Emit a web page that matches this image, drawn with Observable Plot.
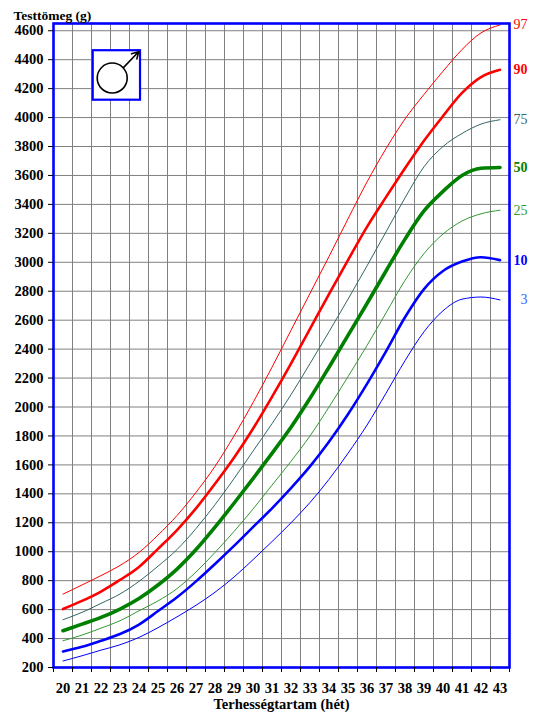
<!DOCTYPE html>
<html>
<head>
<meta charset="utf-8">
<script src="https://cdn.jsdelivr.net/npm/d3@7"></script>
<script src="https://cdn.jsdelivr.net/npm/@observablehq/plot@0.6"></script>
<style>
  html, body { margin: 0; padding: 0; background: #fff; }
  #chart { width: 540px; height: 720px; }
  #chart svg, #chart svg text { font-family: "Liberation Serif", "Times New Roman", serif !important; }
</style>
</head>
<body>
<div id="chart"></div>
<script>
// ---- data ----
const weeks = [20,21,22,23,24,25,26,27,28,29,30,31,32,33,34,35,36,37,38,39,40,41,42,43];
const p97 = [707,770,835,905,995,1115,1250,1410,1590,1800,2030,2275,2530,2785,3040,3300,3555,3785,3990,4160,4320,4470,4585,4640];
const p90 = [604,660,725,805,895,1020,1150,1300,1470,1650,1850,2070,2300,2540,2780,3015,3245,3450,3650,3840,4010,4170,4280,4330];
const p75 = [530,581,643,708,795,900,1015,1160,1325,1505,1695,1885,2085,2300,2520,2745,2975,3210,3445,3660,3800,3890,3955,3985];
const p50 = [454,500,546,604,677,770,880,1015,1170,1335,1505,1680,1860,2060,2275,2495,2715,2940,3160,3355,3490,3600,3650,3655];
const p25 = [385,424,472,523,592,660,745,860,995,1140,1295,1460,1625,1800,2000,2210,2425,2650,2875,3060,3195,3285,3335,3360];
const p10 = [311,343,385,431,497,590,685,795,915,1040,1170,1300,1440,1590,1760,1950,2160,2385,2620,2815,2940,3005,3035,3015];
const p3  = [245,281,320,357,408,475,550,630,720,825,945,1070,1200,1340,1500,1680,1875,2095,2320,2520,2665,2745,2760,2740];
const percentileNames = ["3","10","25","50","75","90","97"];
const seriesValues = [p3, p10, p25, p50, p75, p90, p97];
const yTickLabels = [200,400,600,800,1000,1200,1400,1600,1800,2000,2200,2400,2600,2800,3000,3200,3400,3600,3800,4000,4200,4400,4600];
const yTitle = "Testtömeg (g)";
const xTitle = "Terhességtartam (hét)";

// ---- styles ----
const styleOf = {
  "3":  {color: "#0000ff", label: "#3366ff", width: 1,   bold: false},
  "10": {color: "#0000ff", label: "#0000ff", width: 2.6, bold: true},
  "25": {color: "#339933", label: "#339933", width: 1,   bold: false},
  "50": {color: "#008000", label: "#008000", width: 3.6, bold: true},
  "75": {color: "#336666", label: "#336666", width: 1,   bold: false},
  "90": {color: "#ff0000", label: "#ff0000", width: 2.6, bold: true},
  "97": {color: "#ff0000", label: "#ff0000", width: 1,   bold: false}
};
const font = "Liberation Serif, Times New Roman, serif";

// tidy table
const table = [];
percentileNames.forEach((p, i) => {
  weeks.forEach((w, j) => table.push({p, week: w, value: seriesValues[i][j]}));
});
const ends = percentileNames.map((p, i) => ({p, week: weeks[weeks.length - 1], value: seriesValues[i][seriesValues[i].length - 1]}));

// band boundaries between weeks (grid + tick marks)
const boundaries = weeks.map(w => w - 0.5).concat([weeks[weeks.length - 1] + 0.5]);
const innerBoundaries = boundaries.slice(1, -1);
const gridY = yTickLabels.slice(1);

const lineMarks = percentileNames.map(p =>
  Plot.line(table.filter(d => d.p === p), {
    x: "week", y: "value",
    stroke: styleOf[p].color,
    strokeWidth: styleOf[p].width,
    curve: "monotone-x"
  })
);

const labelMarks = percentileNames.map(p =>
  Plot.text(ends.filter(d => d.p === p), {
    x: d => d.week + 0.5, y: "value", text: "p",
    dx: 18, textAnchor: "end",
    fill: styleOf[p].label,
    fontWeight: styleOf[p].bold ? "bold" : "normal",
    fontSize: 14, fontFamily: font
  })
);

const chart = Plot.plot({
  width: 540,
  height: 720,
  marginTop: 23,
  marginRight: 31,
  marginBottom: 53,
  marginLeft: 53,
  style: {fontFamily: font, background: "#fff", color: "#000"},
  x: {domain: [boundaries[0], boundaries[boundaries.length - 1]]},
  y: {domain: [200, 4650]},
  marks: [
    Plot.ruleX(innerBoundaries, {stroke: "#808080", strokeWidth: 1}),
    Plot.ruleY(gridY, {stroke: "#808080", strokeWidth: 1}),
    ...lineMarks,
    Plot.frame({stroke: "#0000ff", strokeWidth: 2.6}),
    Plot.axisY({ticks: yTickLabels, tickFormat: "d", tickSize: 5, tickPadding: 5,
      fontSize: 14.5, fontWeight: "bold", label: null, stroke: "#000"}),
    Plot.axisX({ticks: boundaries, tickFormat: () => "", tickSize: 5, label: null, stroke: "#000"}),
    Plot.axisX({ticks: weeks, tickFormat: "d", tickSize: 0, tickPadding: 15,
      fontSize: 14.5, fontWeight: "bold", label: null}),
    Plot.text([yTitle], {frameAnchor: "top-left", dx: -40, dy: -13, textAnchor: "start",
      fontWeight: "bold", fontSize: 13.5, fontFamily: font}),
    Plot.text([xTitle], {frameAnchor: "bottom", dy: 41,
      fontWeight: "bold", fontSize: 14.5, fontFamily: font}),
    ...labelMarks,
    // male symbol box
    Plot.rect([0], {x1: 21.59, x2: 24.08, y1: 4120, y2: 4462, fill: "#fff", stroke: "#0000ff", strokeWidth: 2.2}),
    Plot.dot([0], {x: 22.59, y: 4273, r: 15, stroke: "#000", strokeWidth: 1.6, fill: "none"}),
    Plot.arrow([0], {x1: 23.18, y1: 4345, x2: 23.98, y2: 4455, stroke: "#000", strokeWidth: 1.6, headLength: 9})
  ]
});
document.getElementById("chart").appendChild(chart);
</script>
</body>
</html>
